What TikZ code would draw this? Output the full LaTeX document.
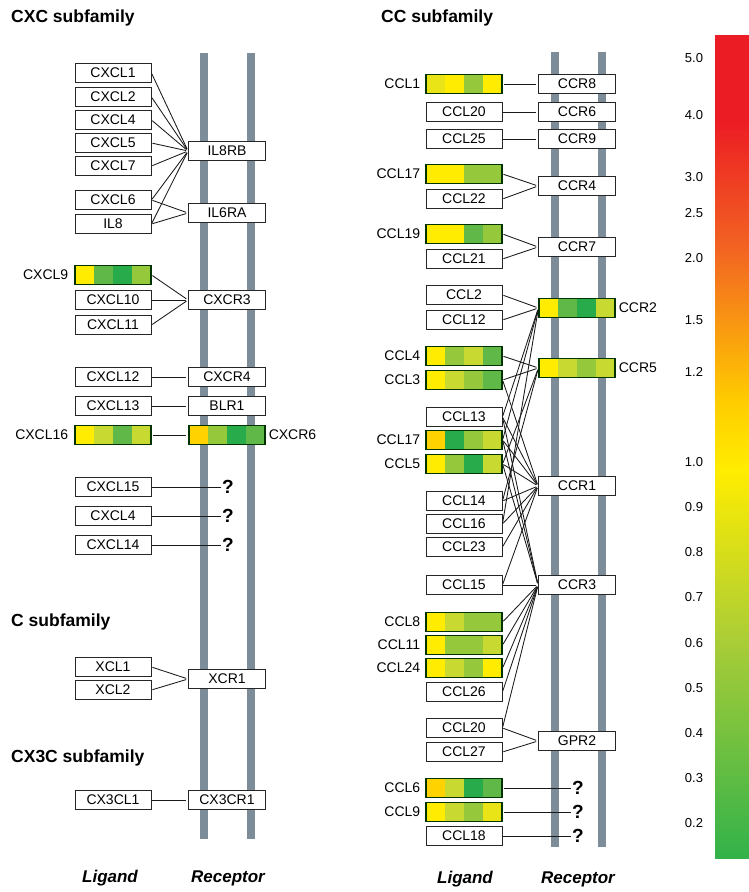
\documentclass[tikz,border=0pt]{standalone}
\usepackage{fontspec}
\setmainfont{Liberation Sans}
\usetikzlibrary{positioning,calc}

\definecolor{bargray}{RGB}{124,141,153}
\definecolor{hY}{RGB}{255,236,0}
\definecolor{hYY}{RGB}{232,228,24}
\definecolor{hO}{RGB}{255,210,0}
\definecolor{hYG}{RGB}{200,218,50}
\definecolor{hLG}{RGB}{150,200,60}
\definecolor{hMG}{RGB}{95,184,72}
\definecolor{hG}{RGB}{40,172,75}
\definecolor{cbRed}{RGB}{236,28,36}
\definecolor{cbOrg}{RGB}{242,101,34}
\definecolor{cbAmb}{RGB}{255,204,0}
\definecolor{cbYel}{RGB}{255,237,0}
\definecolor{cbYG}{RGB}{170,205,55}
\definecolor{cbGrn}{RGB}{50,178,74}

\tikzset{
  gene/.style={draw=black!85, line width=0.9pt, fill=white, minimum width=76pt,
    minimum height=19pt, inner sep=0pt, font=\fontsize{14}{14}\selectfont},
  rec/.style={gene, minimum width=77pt},
  heat/.style n args={4}{gene, draw=black!80!green, line width=1.2pt,
    path picture={
      \coordinate (hA) at (path picture bounding box.north west);
      \coordinate (hB) at (path picture bounding box.south east);
      \fill[#1] (hA) rectangle ($(hA|-hB)!0.25!(hB)$);
      \fill[#2] ($(hA)!0.25!(hA-|hB)$) rectangle ($(hA|-hB)!0.5!(hB)$);
      \fill[#3] ($(hA)!0.5!(hA-|hB)$) rectangle ($(hA|-hB)!0.75!(hB)$);
      \fill[#4] ($(hA)!0.75!(hA-|hB)$) rectangle (hB);
    }},
  side/.style={inner sep=0pt, font=\fontsize{14}{14}\selectfont},
  link/.style={draw=black!90, line width=0.85pt, shorten >=2pt, shorten <=1pt},
  famtitle/.style={anchor=west, inner sep=0pt, font=\fontsize{17.5}{17.5}\selectfont\bfseries},
  axislbl/.style={inner sep=0pt, font=\fontsize{17}{17}\selectfont\bfseries\itshape},
  unknown/.style={inner sep=0pt, font=\fontsize{19}{19}\selectfont\bfseries},
  membrane/.style={draw=bargray, line width=8pt},
  tick/.style={inner sep=0pt, font=\fontsize{13}{13}\selectfont}
}

\begin{document}
\begin{tikzpicture}[x=1pt, y=-1pt]
\useasboundingbox (0,0) rectangle (749,892);

% membranes
\draw[membrane] (204,53) -- (204,839);
\draw[membrane] (251,53) -- (251,839);
\draw[membrane] (555,52) -- (555,847);
\draw[membrane] (602,52) -- (602,847);

% titles
\node[famtitle] (cxc) at (11,18) {CXC subfamily};
\node[famtitle] (cfam) at (11,622) {C subfamily};
\node[famtitle] (cx3c) at (11,758) {CX3C subfamily};
\node[famtitle] (ccfam) at (381,18) {CC subfamily};

% CXC ligands and receptors
\node[gene] (cxcl1) at (113,73) {CXCL1};
\node[gene] (cxcl2) at (113,97) {CXCL2};
\node[gene] (cxcl4) at (113,120) {CXCL4};
\node[gene] (cxcl5) at (113,143) {CXCL5};
\node[gene] (cxcl7) at (113,166) {CXCL7};
\node[gene] (cxcl6) at (113,200) {CXCL6};
\node[gene] (il8) at (113,224) {IL8};
\node[rec] (il8rb) at (227,151) {IL8RB};
\node[rec] (il6ra) at (227,213) {IL6RA};

\node[heat={hY}{hMG}{hG}{hLG}] (cxcl9) at (113,275) {};
\node[side, left=6pt of cxcl9] (cxcl9t) {CXCL9};
\node[gene] (cxcl10) at (113,300) {CXCL10};
\node[gene] (cxcl11) at (113,325) {CXCL11};
\node[rec] (cxcr3) at (227,300) {CXCR3};

\node[gene] (cxcl12) at (113,377) {CXCL12};
\node[rec] (cxcr4) at (227,377) {CXCR4};
\node[gene] (cxcl13) at (113,406) {CXCL13};
\node[rec] (blr1) at (227,406) {BLR1};
\node[heat={hY}{hYG}{hMG}{hYG}] (cxcl16) at (113,435) {};
\node[side, left=6pt of cxcl16] (cxcl16t) {CXCL16};
\node[heat={hO}{hLG}{hG}{hMG}] (cxcr6) at (227,435) {};
\node[side, right=3pt of cxcr6] (cxcr6t) {CXCR6};

\node[gene] (cxcl15) at (113,487) {CXCL15};
\node[gene] (cxcl4b) at (113,516) {CXCL4};
\node[gene] (cxcl14) at (113,545) {CXCL14};
\node[unknown] (qa) at (228,487) {?};
\node[unknown] (qb) at (228,516) {?};
\node[unknown] (qc) at (228,545) {?};

% C and CX3C
\node[gene] (xcl1) at (113,667) {XCL1};
\node[gene] (xcl2) at (113,690) {XCL2};
\node[rec] (xcr1) at (227,679) {XCR1};
\node[gene] (cx3cl1) at (113,800) {CX3CL1};
\node[rec] (cx3cr1) at (227,800) {CX3CR1};

\node[axislbl] (ligA) at (110,878) {Ligand};
\node[axislbl] (recA) at (228,878) {Receptor};

% CXC links
\foreach \l in {cxcl1,cxcl2,cxcl4,cxcl5,cxcl7,cxcl6,il8}
  \draw[link] (\l.east) -- (il8rb.west);
\foreach \l in {cxcl6,il8}
  \draw[link] (\l.east) -- (il6ra.west);
\foreach \l in {cxcl9,cxcl10,cxcl11}
  \draw[link] (\l.east) -- (cxcr3.west);
\draw[link] (cxcl12) -- (cxcr4);
\draw[link] (cxcl13) -- (blr1);
\draw[link] (cxcl16) -- (cxcr6);
\draw[link, shorten >=1pt] (cxcl15) -- (qa);
\draw[link, shorten >=1pt] (cxcl4b) -- (qb);
\draw[link, shorten >=1pt] (cxcl14) -- (qc);
\foreach \l in {xcl1,xcl2}
  \draw[link] (\l.east) -- (xcr1.west);
\draw[link] (cx3cl1) -- (cx3cr1);

% CC ligands and receptors
\node[heat={hYY}{hY}{hLG}{hY}] (ccl1) at (464,84) {};
\node[side, left=5pt of ccl1] (ccl1t) {CCL1};
\node[rec] (ccr8) at (577,84) {CCR8};
\node[gene] (ccl20) at (464,112) {CCL20};
\node[rec] (ccr6) at (577,112) {CCR6};
\node[gene] (ccl25) at (464,139) {CCL25};
\node[rec] (ccr9) at (577,139) {CCR9};

\node[heat={hY}{hY}{hLG}{hLG}] (ccl17) at (464,174) {};
\node[side, left=5pt of ccl17] (ccl17t) {CCL17};
\node[gene] (ccl22) at (464,199) {CCL22};
\node[rec] (ccr4) at (577,186) {CCR4};

\node[heat={hY}{hY}{hMG}{hLG}] (ccl19) at (464,234) {};
\node[side, left=5pt of ccl19] (ccl19t) {CCL19};
\node[gene] (ccl21) at (464,259) {CCL21};
\node[rec] (ccr7) at (577,247) {CCR7};

\node[gene] (ccl2) at (464,295) {CCL2};
\node[gene] (ccl12) at (464,320) {CCL12};
\node[heat={hY}{hMG}{hG}{hYG}] (ccr2) at (577,308) {};
\node[side, right=3pt of ccr2] (ccr2t) {CCR2};

\node[heat={hY}{hLG}{hYG}{hMG}] (ccl4) at (464,356) {};
\node[side, left=5pt of ccl4] (ccl4t) {CCL4};
\node[heat={hY}{hYG}{hLG}{hMG}] (ccl3) at (464,380) {};
\node[side, left=5pt of ccl3] (ccl3t) {CCL3};
\node[heat={hY}{hYG}{hLG}{hYG}] (ccr5) at (577,368) {};
\node[side, right=3pt of ccr5] (ccr5t) {CCR5};

\node[gene] (ccl13) at (464,417) {CCL13};
\node[heat={hO}{hG}{hLG}{hYG}] (ccl17b) at (464,440) {};
\node[side, left=5pt of ccl17b] (ccl17bt) {CCL17};
\node[heat={hY}{hLG}{hG}{hYG}] (ccl5) at (464,464) {};
\node[side, left=5pt of ccl5] (ccl5t) {CCL5};
\node[rec] (ccr1) at (577,486) {CCR1};
\node[gene] (ccl14) at (464,501) {CCL14};
\node[gene] (ccl16) at (464,524) {CCL16};
\node[gene] (ccl23) at (464,547) {CCL23};

\node[gene] (ccl15) at (464,585) {CCL15};
\node[rec] (ccr3) at (577,585) {CCR3};
\node[heat={hY}{hYG}{hLG}{hLG}] (ccl8) at (464,622) {};
\node[side, left=5pt of ccl8] (ccl8t) {CCL8};
\node[heat={hY}{hLG}{hLG}{hYG}] (ccl11) at (464,645) {};
\node[side, left=5pt of ccl11] (ccl11t) {CCL11};
\node[heat={hY}{hYG}{hLG}{hY}] (ccl24) at (464,668) {};
\node[side, left=5pt of ccl24] (ccl24t) {CCL24};
\node[gene] (ccl26) at (464,692) {CCL26};

\node[gene] (ccl20b) at (464,728) {CCL20};
\node[gene] (ccl27) at (464,752) {CCL27};
\node[rec] (gpr2) at (577,741) {GPR2};

\node[heat={hO}{hYG}{hG}{hMG}] (ccl6) at (464,788) {};
\node[side, left=5pt of ccl6] (ccl6t) {CCL6};
\node[heat={hY}{hYG}{hLG}{hYY}] (ccl9) at (464,812) {};
\node[side, left=5pt of ccl9] (ccl9t) {CCL9};
\node[gene] (ccl18) at (464,836) {CCL18};
\node[unknown] (qd) at (578,788) {?};
\node[unknown] (qe) at (578,812) {?};
\node[unknown] (qf) at (578,836) {?};

\node[axislbl] (ligB) at (465,879) {Ligand};
\node[axislbl] (recB) at (578,879) {Receptor};

% CC links
\draw[link] (ccl1) -- (ccr8);
\draw[link] (ccl20) -- (ccr6);
\draw[link] (ccl25) -- (ccr9);
\foreach \l in {ccl17,ccl22}
  \draw[link] (\l.east) -- (ccr4.west);
\foreach \l in {ccl19,ccl21}
  \draw[link] (\l.east) -- (ccr7.west);
\foreach \l in {ccl2,ccl12,ccl13,ccl17b,ccl16}
  \draw[link] (\l.east) -- (ccr2.west);
\foreach \l in {ccl4,ccl3,ccl5,ccl14}
  \draw[link] (\l.east) -- (ccr5.west);
\foreach \l in {ccl3,ccl13,ccl17b,ccl5,ccl14,ccl16,ccl23,ccl15}
  \draw[link] (\l.east) -- (ccr1.west);
\foreach \l in {ccl13,ccl17b,ccl5,ccl15,ccl8,ccl11,ccl24,ccl26,ccl20b}
  \draw[link] (\l.east) -- (ccr3.west);
\foreach \l in {ccl20b,ccl27}
  \draw[link] (\l.east) -- (gpr2.west);
\draw[link, shorten >=1pt] (ccl6) -- (qd);
\draw[link, shorten >=1pt] (ccl9) -- (qe);
\draw[link, shorten >=1pt] (ccl18) -- (qf);

% colour scale
\fill[cbRed] (715,35) rectangle (749,121);
\shade[top color=cbRed, bottom color=cbOrg] (715,120) rectangle (749,251);
\shade[top color=cbOrg, bottom color=cbAmb] (715,250) rectangle (749,401);
\shade[top color=cbAmb, bottom color=cbYel] (715,400) rectangle (749,471);
\shade[top color=cbYel, bottom color=cbYG] (715,470) rectangle (749,641);
\shade[top color=cbYG, bottom color=cbGrn] (715,640) rectangle (749,858);
\foreach \v/\y in {5.0/58, 4.0/115, 3.0/177, 2.5/213, 2.0/258, 1.5/320, 1.2/372,
  1.0/462, 0.9/507, 0.8/552, 0.7/597, 0.6/643, 0.5/688, 0.4/733, 0.3/778, 0.2/823}
  \node[tick] (tk\y) at (694,\y) {\v};
\end{tikzpicture}
\end{document}
